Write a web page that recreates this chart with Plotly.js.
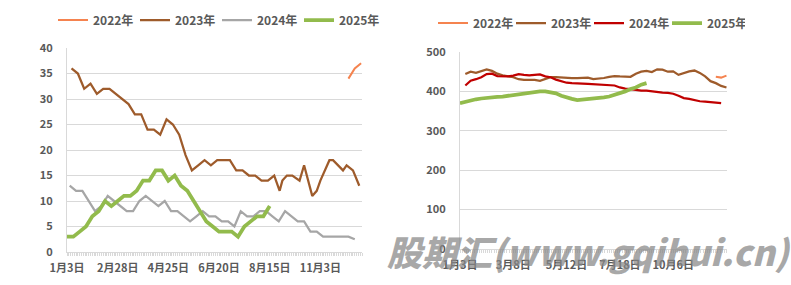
<!DOCTYPE html>
<html>
<head>
<meta charset="utf-8">
<script src="https://cdn.plot.ly/plotly-3.0.1.min.js"></script>
<style>
html,body{margin:0;padding:0;background:#fff;}
#chart{width:791px;height:285px;}
</style>
</head>
<body>
<div id="chart"></div>
<script>
// ---------- Left chart data (x = days after 1月3日) ----------
const leftTickDays = [0, 56, 112, 168, 224, 280];
const leftTickText = ['1月3日', '2月28日', '4月25日', '6月20日', '8月15日', '11月3日'];

const left2022Days = [311, 318, 325];
const left2022 = [34, 36, 37];

const left2023Days = [5, 12, 19, 26, 33, 40, 47, 54, 61, 68, 75, 82, 89, 96, 103, 110, 117, 124, 131, 138,
  145, 152, 159, 166, 173, 180, 187, 194, 201, 208, 215, 222, 229,
  235, 238, 243, 249, 257, 262, 271, 276, 280, 290, 294, 305, 309, 316, 323];
const left2023 = [36, 35, 32, 33, 31, 32, 32, 31, 30, 29, 27, 27, 24, 24, 23, 26, 25, 23, 19, 16,
  17, 18, 17, 18, 18, 18, 16, 16, 15, 15, 14, 14, 15,
  12, 14, 15, 15, 14, 17, 11, 12, 14, 18, 18, 16, 17, 16, 13];

const left2024Days = [3, 10, 17, 24, 31, 38, 45, 52, 59, 66, 73, 80, 87, 94, 101, 108, 115, 122, 129, 136,
  143, 150, 157, 164, 171, 178, 185, 192, 199, 206, 213, 220, 227, 234, 241, 248, 255, 262, 269, 276,
  283, 290, 297, 304, 311, 318];
const left2024 = [13, 12, 12, 10, 8, 9, 11, 10, 9, 8, 8, 10, 11, 10, 9, 10, 8, 8, 7, 6,
  7, 8, 7, 7, 6, 6, 5, 8, 7, 7, 8, 8, 7, 6, 8, 7, 6, 6, 4, 4,
  3, 3, 3, 3, 3, 2.5];

const left2025Days = [0, 7, 14, 21, 28, 35, 42, 49, 56, 63, 70, 77, 84, 91, 98, 105, 112, 119, 126, 133,
  140, 147, 154, 161, 168, 175, 182, 189, 196, 203, 210, 217, 224];
const left2025 = [3, 3, 4, 5, 7, 8, 10, 9, 10, 11, 11, 12, 14, 14, 16, 16, 14, 15, 13, 12,
  10, 8, 6, 5, 4, 4, 4, 3, 5, 6, 7, 7, 9];

// ---------- Right chart data (x = category index) ----------
const rightTickIdx = [0, 10, 20, 30, 40];
const rightTickText = ['1月3日', '3月8日', '5月12日', '7月18日', '10月6日'];

const right2022Start = 48;
const right2022 = [437, 435, 440];

const right2023Start = 1;
const right2023 = [444, 450, 447, 451, 456, 452, 445, 441, 439, 436,
  431, 429, 429, 429, 427, 431, 436, 436, 435, 434,
  434, 434, 434, 435, 431, 432, 434, 437, 439, 438,
  437, 437, 445, 450, 452, 449, 456, 455, 450, 451,
  442, 447, 451, 453, 447, 438, 426, 421, 414, 410];

const right2024Start = 1;
const right2024 = [415, 427, 431, 436, 444, 445, 439, 438, 438, 440,
  444, 442, 441, 442, 443, 438, 436, 430, 425, 422,
  421, 421, 420, 419, 418, 417, 416, 416, 415, 410,
  407, 406, 404, 402, 402, 400, 399, 397, 396, 394,
  389, 383, 381, 378, 375, 374, 373, 371, 370];

const right2025Start = 0;
const right2025 = [370, 374, 377, 380, 382, 384, 385, 386, 387, 389,
  391, 394, 396, 397, 398, 400, 400, 398, 395, 389,
  384, 381, 378, 379, 380, 382, 383, 385, 387, 391,
  396, 400, 406, 410, 417, 421];

const seriesNames = ['2022年', '2023年', '2024年', '2025年'];

// ---------- styles ----------
const C_ORANGE = '#F5834F';
const C_BROWN = '#9E5B2B';
const C_GRAY = '#A6A6A6';
const C_RED = '#C00000';
const C_GREEN = '#92BB4C';
const FONT = 'Noto Sans CJK SC, Microsoft YaHei, sans-serif';
const TXT = '#595959';
const GRID = '#D9D9D9';

function idx(start, arr) { return arr.map((_, i) => start + i); }

const traces = [
  {x: left2022Days, y: left2022, name: seriesNames[0], mode: 'lines', line: {color: C_ORANGE, width: 2}, xaxis: 'x', yaxis: 'y', legend: 'legend'},
  {x: left2023Days, y: left2023, name: seriesNames[1], mode: 'lines', line: {color: C_BROWN, width: 2.25}, xaxis: 'x', yaxis: 'y', legend: 'legend'},
  {x: left2024Days, y: left2024, name: seriesNames[2], mode: 'lines', line: {color: C_GRAY, width: 2.25}, xaxis: 'x', yaxis: 'y', legend: 'legend'},
  {x: left2025Days, y: left2025, name: seriesNames[3], mode: 'lines', line: {color: C_GREEN, width: 3.75}, xaxis: 'x', yaxis: 'y', legend: 'legend'},
  {x: idx(right2022Start, right2022), y: right2022, name: seriesNames[0], mode: 'lines', line: {color: C_ORANGE, width: 2}, xaxis: 'x2', yaxis: 'y2', legend: 'legend2'},
  {x: idx(right2023Start, right2023), y: right2023, name: seriesNames[1], mode: 'lines', line: {color: C_BROWN, width: 2.25}, xaxis: 'x2', yaxis: 'y2', legend: 'legend2'},
  {x: idx(right2024Start, right2024), y: right2024, name: seriesNames[2], mode: 'lines', line: {color: C_RED, width: 2.25}, xaxis: 'x2', yaxis: 'y2', legend: 'legend2'},
  {x: idx(right2025Start, right2025), y: right2025, name: seriesNames[3], mode: 'lines', line: {color: C_GREEN, width: 3.75}, xaxis: 'x2', yaxis: 'y2', legend: 'legend2'}
];

const W = 791, H = 285;
const tickFont = {family: FONT, size: 11, color: TXT, weight: 'bold'};
const legendFont = {family: FONT, size: 12, color: TXT, weight: 'bold'};

function xAxis(domain, range, tv, tt, minorDtick) {
  return {
    domain: domain, range: range, type: 'linear', fixedrange: true,
    tickmode: 'array', tickvals: tv, ticktext: tt,
    showgrid: false, zeroline: false, showline: true, linecolor: GRID, linewidth: 1,
    ticks: '', ticklabelstandoff: 6, tickfont: tickFont,
    minor: {ticks: 'outside', dtick: minorDtick, tick0: 0, ticklen: 3, tickcolor: GRID, tickwidth: 1, showgrid: false}
  };
}
function yAxis(domain, range, dtick, anchor) {
  return {
    domain: domain, range: range, dtick: dtick, anchor: anchor, fixedrange: true,
    showgrid: true, gridcolor: GRID, gridwidth: 1, zeroline: false,
    showline: true, linecolor: GRID, linewidth: 1,
    ticks: '', ticklabelstandoff: 11, tickfont: tickFont
  };
}

const layout = {
  width: W, height: H,
  margin: {l: 0, r: 0, t: 0, b: 0},
  paper_bgcolor: '#fff', plot_bgcolor: '#fff',
  showlegend: true,
  xaxis: Object.assign(xAxis([67 / W, 362 / W], [0, 326], leftTickDays, leftTickText, 2), {anchor: 'y'}),
  yaxis: yAxis([1 - 252 / H, 1 - 48 / H], [0, 40], 5, 'x'),
  xaxis2: Object.assign(xAxis([460 / W, 727 / W], [0, 50.1], rightTickIdx, rightTickText, 0.4), {anchor: 'y2'}),
  yaxis2: yAxis([1 - 249 / H, 1 - 52 / H], [0, 500], 100, 'x2'),
  legend: {orientation: 'h', x: 53 / W, xanchor: 'left', y: 1 - 20 / H, yanchor: 'middle',
    font: legendFont, bgcolor: 'rgba(0,0,0,0)', entrywidth: 37, entrywidthmode: 'pixels', itemclick: false},
  legend2: {orientation: 'h', x: 433 / W, xanchor: 'left', y: 1 - 23 / H, yanchor: 'middle',
    font: legendFont, bgcolor: 'rgba(0,0,0,0)', entrywidth: 33, entrywidthmode: 'pixels', itemclick: false},
  annotations: [{
    text: '股期汇(www.gqihui.cn)', xref: 'paper', yref: 'paper',
    x: 589 / W, y: 1 - 250 / H, xanchor: 'center', yanchor: 'middle', showarrow: false,
    font: {family: FONT, size: 35, color: 'rgba(135,135,135,0.72)', weight: 900, style: 'italic'}
  }]
};

Plotly.newPlot('chart', traces, layout, {displayModeBar: false, staticPlot: true});
</script>
</body>
</html>
